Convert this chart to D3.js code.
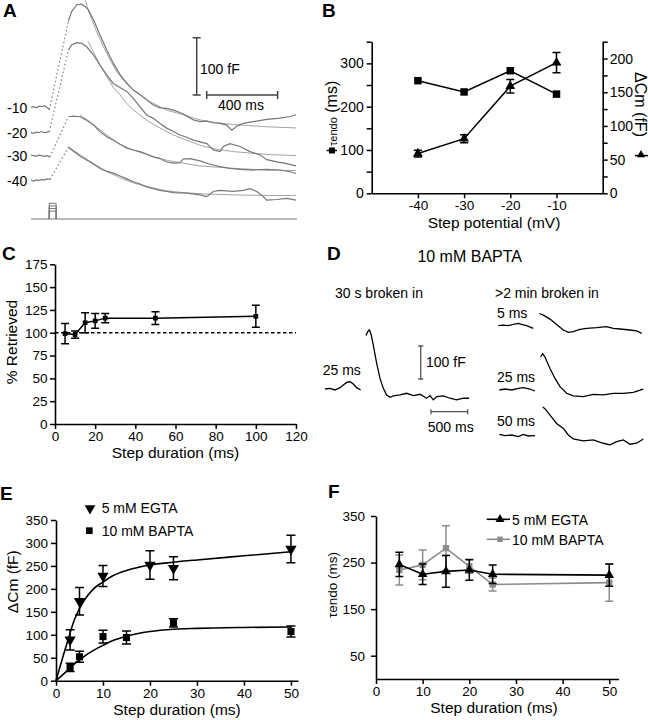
<!DOCTYPE html>
<html>
<head>
<meta charset="utf-8">
<script src="https://cdn.jsdelivr.net/npm/d3@7"></script>
<style>
  body { margin: 0; background: #fff; }
  svg { display: block; }
</style>
</head>
<body>
<div id="chart"></div>
<script>
const FONT = '"Liberation Sans", Arial, Helvetica, sans-serif';

// ---------- A: capacitance traces (ms, fF relative to each trace's baseline)
const aPotentials = ["-10", "-20", "-30", "-40"];
const aStepMv = [-10, -20, -30, -40];
const aPre = [
  [[0,0],[15,1],[30,-1],[45,2],[60,1],[75,3],[90,0],[103,-4]],
  [[0,0],[15,-1],[30,1],[45,0],[60,2],[75,0],[90,1],[103,2]],
  [[0,1],[15,0],[30,-1],[45,1],[60,0],[75,-1],[90,0],[107,-2]],
  [[0,0],[15,-2],[30,0],[45,-1],[60,1],[75,0],[90,2],[107,1]]
];
const aResp = [
  [[211,150],[229,167],[258,179],[286,180],[305,176],[323,170],[352,153],[389,126],[427,100],[464,77],[502,57],[540,42],[577,30],[615,22],[652,13],[690,4],[728,-1],[765,-2],[803,-5],[840,-9],[878,-15],[916,-22],[953,-25],[991,-24],[1028,-27],[1066,-28],[1104,-31],[1132,-40],[1160,-33],[1198,-28],[1254,-25],[1329,-21],[1404,-19],[1461,-16],[1495,-13]],
  [[211,144],[229,153],[258,157],[286,156],[314,150],[352,136],[389,118],[427,101],[464,86],[502,79],[540,72],[577,60],[615,45],[652,31],[690,25],[728,16],[765,8],[803,2],[840,-4],[878,-8],[916,-13],[953,-16],[991,-19],[1028,-30],[1066,-33],[1085,-24],[1122,-19],[1179,-24],[1235,-33],[1292,-39],[1329,-47],[1386,-51],[1442,-54],[1495,-58]],
  [[211,68],[239,69],[276,68],[314,62],[352,54],[389,42],[427,33],[464,27],[502,20],[540,13],[577,10],[615,7],[652,3],[690,-2],[728,-5],[765,-11],[803,-13],[840,-12],[859,-6],[897,-5],[953,-9],[1010,-15],[1066,-19],[1122,-22],[1179,-24],[1254,-25],[1329,-24],[1404,-25],[1461,-28],[1495,-31]],
  [[211,57],[239,50],[276,42],[314,35],[352,28],[389,20],[427,15],[464,12],[502,7],[540,2],[577,-3],[615,-7],[652,-12],[690,-15],[728,-18],[765,-20],[803,-22],[878,-23],[953,-26],[991,-29],[1028,-20],[1066,-18],[1141,-20],[1198,-18],[1235,-15],[1273,-20],[1310,-29],[1329,-35],[1386,-34],[1442,-32],[1495,-35]]
];
const aFit = [
  [[305,187],[333,161],[370,132],[408,106],[446,83],[483,62],[521,48],[577,30],[671,10],[765,-5],[859,-13],[953,-22],[1047,-27],[1141,-30],[1329,-34],[1495,-36]],
  [[323,159],[352,141],[389,118],[427,98],[464,79],[502,66],[540,51],[577,40],[652,22],[728,8],[803,-4],[878,-13],[953,-22],[1047,-29],[1141,-33],[1329,-38],[1495,-40]],
  [[276,71],[333,59],[389,45],[446,32],[502,20],[577,10],[671,0],[765,-8],[859,-13],[953,-18],[1141,-22],[1329,-25],[1495,-26]],
  [[211,58],[276,44],[352,29],[427,15],[502,4],[577,-5],[671,-13],[765,-19],[859,-22],[953,-24],[1141,-26],[1329,-27],[1495,-27]]
];

// ---------- B
const bPot = [-40, -30, -20, -10];
const bTau = [260, 234, 283, 229];
const bCm = [59, 81, 159, 194];
const bCmErr = [5, 6, 10, 15];
const bTicksX = [-40, -30, -20, -10];
const bTicksL = [0, 50, 100, 150, 200, 250, 300, 350];
const bTicksR = [0, 25, 50, 75, 100, 125, 150, 175, 200, 225];

// ---------- C
const cDur = [5, 10, 15, 20, 25, 50, 100];
const cRet = [99, 98, 111, 113, 116, 116, 118];
const cErr = [11, 4, 11, 8, 5, 7, 12];
const cTicksX = [0, 20, 40, 60, 80, 100, 120];
const cTicksY = [0, 25, 50, 75, 100, 125, 150, 175];

// ---------- D (ms, fF relative to baseline)
const dLeftPre = [[0,0],[68,2],[136,-3],[205,4],[250,12],[295,20],[341,22],[386,15],[432,4],[486,-3]];
const dLeftResp = [[559,162],[582,174],[605,179],[627,167],[659,132],[705,77],[750,32],[795,2],[841,-18],[886,-25],[932,-21],[1023,-18],[1114,-13],[1205,-20],[1295,-16],[1386,-28],[1432,-20],[1477,-33],[1523,-23],[1614,-21],[1705,-28],[1795,-33],[1886,-28],[1964,-28]];
const dRightLabels = ["5 ms", "25 ms", "50 ms"];
const dRightPre = [
  [[0,0],[68,2],[136,0],[205,4],[273,7],[318,4],[386,0],[477,-8]],
  [[14,0],[91,3],[182,0],[273,5],[341,7],[432,3],[500,-3]],
  [[14,2],[91,-2],[182,0],[273,-5],[341,2],[409,-3],[500,-2]]
];
const dRightResp = [
  [[559,37],[614,32],[705,20],[795,4],[886,-13],[955,-20],[1023,-18],[1114,-11],[1205,-8],[1341,-6],[1477,-3],[1568,-8],[1659,-10],[1795,-13],[1886,-16],[1955,-23]],
  [[577,100],[605,110],[636,100],[705,65],[773,35],[841,10],[932,-10],[1023,-18],[1159,-20],[1295,-13],[1432,-15],[1568,-10],[1705,-10],[1841,-7],[1977,3]],
  [[605,85],[636,80],[705,60],[795,35],[886,20],[955,0],[1023,-12],[1159,-18],[1295,-15],[1432,-25],[1523,-30],[1614,-20],[1705,-15],[1795,-28],[1886,-25],[1977,-12]]
];

// ---------- E
const eDurEgta = [3, 5, 10, 20, 25, 50];
const eEgta = [89, 173, 228, 252, 245, 287];
const eEgtaErr = [22, 30, 23, 31, 25, 30];
const eDurBapta = [3, 5, 10, 15, 25, 50];
const eBapta = [29, 52, 96, 94, 126, 107];
const eBaptaErr = [9, 12, 14, 14, 9, 12];
const eFitEgta = [[0,0],[2,70],[4,135],[6,175],[8,200],[10,215],[12,228],[15,240],[20,252],[25,258],[30,263],[40,272],[50,281]];
const eFitBapta = [[0,0],[2,18],[4,37],[6,53],[8,66],[10,77],[12,87],[15,97],[20,107],[25,112],[30,114],[40,116],[50,117]];
const eTicksX = [0, 10, 20, 30, 40, 50];
const eTicksY = [0, 50, 100, 150, 200, 250, 300, 350];

// ---------- F
const fDur = [5, 10, 15, 20, 25, 50];
const fEgta = [246, 225, 231, 234, 225, 223];
const fEgtaErr = [26, 22, 34, 22, 20, 24];
const fBapta = [234, 245, 281, 242, 203, 207];
const fBaptaErr = [32, 32, 48, 15, 14, 40];
const fTicksX = [0, 10, 20, 30, 40, 50];
const fTicksY = [50, 150, 250, 350];

const svg = d3.select("#chart").append("svg")
  .attr("width", 648).attr("height", 720)
  .attr("font-family", FONT);

svg.append("rect").attr("width", 648).attr("height", 720).attr("fill", "#fff");

function text(x, y, t, size, opts = {}) {
  const el = svg.append("text").attr("x", x).attr("y", y)
    .attr("font-size", size).attr("fill", opts.fill || "#000")
    .attr("text-anchor", opts.anchor || "start")
    .text(t);
  if (opts.bold) el.attr("font-weight", "bold");
  if (opts.rotate) el.attr("x", 0).attr("y", 0)
    .attr("transform", "translate(" + x + "," + y + ") rotate(" + opts.rotate + ")");
  return el;
}

function styleAxis(g, size) {
  g.attr("font-family", FONT).attr("font-size", size);
  g.select(".domain").attr("stroke-width", 1.6);
  g.selectAll(".tick line").attr("stroke-width", 1.5);
  g.selectAll(".tick text").attr("fill", "#000");
}

function errorBars(g, xs, ys, errs, x, y, cap, color) {
  xs.forEach((d, i) => {
    const cx = x(d), lo = y(ys[i] - errs[i]), hi = y(ys[i] + errs[i]);
    g.append("path")
      .attr("d", `M${cx},${lo}V${hi}M${cx - cap / 2},${lo}h${cap}M${cx - cap / 2},${hi}h${cap}`)
      .attr("stroke", color).attr("stroke-width", 1.5).attr("fill", "none");
  });
}

function markers(g, xs, ys, x, y, type, size, color, flip) {
  const sym = d3.symbol().type(type).size(size);
  xs.forEach((d, i) => {
    g.append("path").attr("d", sym())
      .attr("transform", `translate(${x(d)},${y(ys[i])})` + (flip ? " rotate(180)" : ""))
      .attr("fill", color);
  });
}

// ================= A =================
text(3, 17, "A", 19, { bold: true });
const ax = d3.scaleLinear().domain([0, 1500]).range([31, 297]);
const ay = d3.scaleLinear().domain([0, 100]).range([0, -57.3]);
const aBase = [107.3, 132.7, 155.7, 180];
const aLine = d3.line().x(d => ax(d[0])).y(d => ay(d[1]));

aPotentials.forEach((p, i) => {
  const g = svg.append("g").attr("transform", `translate(0,${aBase[i]})`);
  g.append("path").attr("d", aLine(aFit[i])).attr("fill", "none")
    .attr("stroke", "#9a9a9a").attr("stroke-width", 0.9);
  g.append("path").attr("d", aLine(aPre[i])).attr("fill", "none")
    .attr("stroke", "#777").attr("stroke-width", 1.2);
  g.append("path").attr("d", aLine([aPre[i][aPre[i].length - 1], aResp[i][0]]))
    .attr("fill", "none").attr("stroke", "#777").attr("stroke-width", 1.1)
    .attr("stroke-dasharray", "1.5,2.5");
  g.append("path").attr("d", aLine(aResp[i])).attr("fill", "none")
    .attr("stroke", "#777").attr("stroke-width", 1.2);
  text(7, aBase[i] + 5.5, p, 14);
});

// scale bars
{
  const x0 = 196.7, y0 = 95;
  svg.append("path")
    .attr("d", `M${x0},${y0}V${y0 + ay(100)}M${x0 - 4},${y0 + ay(100)}h8M${x0 - 4},${y0}h8`)
    .attr("stroke", "#444").attr("stroke-width", 1.5).attr("fill", "none");
  const hx = 206.7, hw = ax(400) - ax(0);
  svg.append("path")
    .attr("d", `M${hx},${y0}h${hw}M${hx},${y0 - 4}v8M${hx + hw},${y0 - 4}v8`)
    .attr("stroke", "#444").attr("stroke-width", 1.5).attr("fill", "none");
  text(200, 74, "100 fF", 14);
  text(218, 110, "400 ms", 14);
}

// stimulus
{
  const sy = d3.scaleLinear().domain([-70, -10]).range([219, 203.3]);
  svg.append("path").attr("d", `M${ax(0)},${sy(-70)}H${ax(1500)}`)
    .attr("stroke", "#777").attr("stroke-width", 1.2);
  aStepMv.forEach(v => {
    svg.append("path")
      .attr("d", `M${ax(103)},${sy(-70)}V${sy(v)}H${ax(142)}V${sy(-70)}`)
      .attr("stroke", "#777").attr("stroke-width", 1).attr("fill", "none");
  });
}

// ================= B =================
text(322, 17, "B", 19, { bold: true });
{
  const bx = d3.scaleLinear().domain([-50, 0]).range([371.7, 602.7]);
  const byL = d3.scaleLinear().domain([0, 350]).range([193.3, 41.7]);
  const byR = d3.scaleLinear().domain([0, 225]).range([193.3, 41.7]);
  const g = svg.append("g");

  styleAxis(g.append("g").attr("transform", "translate(371.7,0)")
    .call(d3.axisLeft(byL).tickValues(bTicksL).tickFormat(d => d % 100 === 0 ? d : "")
      .tickSize(5).tickPadding(3).tickSizeOuter(0)), 14);
  styleAxis(g.append("g").attr("transform", "translate(602.7,0)")
    .call(d3.axisRight(byR).tickValues(bTicksR).tickFormat(d => d % 50 === 0 ? d : "")
      .tickSize(5).tickPadding(2).tickSizeOuter(0)), 14);
  styleAxis(g.append("g").attr("transform", "translate(0,193.3)")
    .call(d3.axisBottom(bx).tickValues(bTicksX).tickFormat(d => String(d))
      .tickSize(5).tickPadding(2).tickSizeOuter(0)), 13.5);

  const lineL = d3.line().x((d, i) => bx(bPot[i])).y(d => byL(d));
  const lineR = d3.line().x((d, i) => bx(bPot[i])).y(d => byR(d));
  g.append("path").attr("d", lineR(bCm)).attr("fill", "none").attr("stroke", "#000").attr("stroke-width", 1.5);
  errorBars(g, bPot, bCm, bCmErr, bx, byR, 8, "#000");
  markers(g, bPot, bCm, bx, byR, d3.symbolTriangle, 42, "#000");
  g.append("path").attr("d", lineL(bTau)).attr("fill", "none").attr("stroke", "#000").attr("stroke-width", 1.5);
  markers(g, bPot, bTau, bx, byL, d3.symbolSquare, 56, "#000");

  // left title: small "τendo", larger "(ms)", read bottom-to-top
  const lt = svg.append("text").attr("transform", "translate(337,146) rotate(-90)")
    .attr("fill", "#000");
  lt.append("tspan").attr("font-size", 11).text("τendo");
  lt.append("tspan").attr("font-size", 16).text(" (ms)");
  text(635, 104.5, "ΔCm (fF)", 16, { anchor: "middle", rotate: 90 });

  // series keys on the axis titles
  g.append("path").attr("d", "M326.7,150.5H337").attr("stroke", "#000").attr("stroke-width", 1.5);
  g.append("rect").attr("x", 329).attr("y", 147.5).attr("width", 6).attr("height", 6).attr("fill", "#000");
  g.append("path").attr("d", "M635,155.6H648").attr("stroke", "#000").attr("stroke-width", 1.5);
  g.append("path").attr("d", d3.symbol().type(d3.symbolTriangle).size(30)())
    .attr("transform", "translate(641,154.8)").attr("fill", "#000");

  text(494, 227.5, "Step potential (mV)", 15.5, { anchor: "middle" });
}

// ================= C =================
text(2, 260, "C", 19, { bold: true });
{
  const cx = d3.scaleLinear().domain([0, 120]).range([55, 296]);
  const cy = d3.scaleLinear().domain([0, 175]).range([424, 264.3]);
  const g = svg.append("g");
  styleAxis(g.append("g").attr("transform", "translate(55,0)")
    .call(d3.axisLeft(cy).tickValues(cTicksY).tickSize(5).tickPadding(2.5).tickSizeOuter(0)), 13.5);
  styleAxis(g.append("g").attr("transform", "translate(0,424)")
    .call(d3.axisBottom(cx).tickValues(cTicksX).tickSize(5).tickPadding(2).tickSizeOuter(0)), 13.5);

  g.append("path").attr("d", `M${cx(0)},${cy(100)}H${cx(120)}`)
    .attr("stroke", "#000").attr("stroke-width", 1.3).attr("stroke-dasharray", "3.5,2.5");
  const line = d3.line().x((d, i) => cx(cDur[i])).y(d => cy(d));
  g.append("path").attr("d", line(cRet)).attr("fill", "none").attr("stroke", "#000").attr("stroke-width", 1.5);
  errorBars(g, cDur, cRet, cErr, cx, cy, 8, "#000");
  markers(g, cDur, cRet, cx, cy, d3.symbolSquare, 22, "#000");

  text(17, 342, "% Retrieved", 15.5, { anchor: "middle", rotate: -90 });
  text(175.5, 458, "Step duration (ms)", 15.5, { anchor: "middle" });
}

// ================= D =================
text(327, 260, "D", 19, { bold: true });
{
  const dx = d3.scaleLinear().domain([0, 2000]).range([0, 146.7]);
  const dy = d3.scaleLinear().domain([0, 100]).range([0, -33]);
  const line = d3.line().x(d => dx(d[0])).y(d => dy(d[1]));
  const drawTrace = (x0, y0, pre, resp) => {
    const g = svg.append("g").attr("transform", `translate(${x0},${y0})`);
    [pre, resp].forEach(s => g.append("path").attr("d", line(s)).attr("fill", "none")
      .attr("stroke", "#000").attr("stroke-width", 1.3));
  };
  drawTrace(325, 389, dLeftPre, dLeftResp);
  const rightBase = [325.7, 390, 435];
  dRightPre.forEach((p, i) => drawTrace(498.3, rightBase[i], p, dRightResp[i]));

  text(469.7, 262.3, "10 mM BAPTA", 16, { anchor: "middle" });
  text(335, 298.3, "30 s broken in", 14);
  text(495, 298.3, ">2 min broken in", 14);
  text(322.7, 375, "25 ms", 14);
  const rightLabelY = [318.3, 382.3, 425.7];
  dRightLabels.forEach((l, i) => text(497, rightLabelY[i], l, 14));

  // scale bars
  const vx = 420.7, vy = 379;
  svg.append("path")
    .attr("d", `M${vx},${vy}V${vy + dy(100)}M${vx - 2.5},${vy}h5M${vx - 2.5},${vy + dy(100)}h5`)
    .attr("stroke", "#555").attr("stroke-width", 1.3).attr("fill", "none");
  const hx = 431, hy = 411.7;
  svg.append("path")
    .attr("d", `M${hx},${hy}h${dx(500)}M${hx},${hy - 2.5}v5M${hx + dx(500)},${hy - 2.5}v5`)
    .attr("stroke", "#555").attr("stroke-width", 1.3).attr("fill", "none");
  text(426, 366.7, "100 fF", 14);
  text(450.7, 431.7, "500 ms", 14, { anchor: "middle" });
}

// ================= E =================
text(0, 500, "E", 19, { bold: true });
{
  const ex = d3.scaleLinear().domain([0, 51.5]).range([56, 298]);
  const ey = d3.scaleLinear().domain([0, 350]).range([680.7, 520]);
  const g = svg.append("g");
  styleAxis(g.append("g").attr("transform", "translate(56,0)")
    .call(d3.axisLeft(ey).tickValues(eTicksY).tickSize(5).tickPadding(3).tickSizeOuter(0)), 13.5);
  styleAxis(g.append("g").attr("transform", "translate(0,680.7)")
    .call(d3.axisBottom(ex).tickValues(eTicksX).tickSize(5).tickPadding(3).tickSizeOuter(0)), 13.5);

  const fit = d3.line().x(d => ex(d[0])).y(d => ey(d[1])).curve(d3.curveMonotoneX);
  g.append("path").attr("d", fit(eFitEgta)).attr("fill", "none").attr("stroke", "#000").attr("stroke-width", 1.6);
  g.append("path").attr("d", fit(eFitBapta)).attr("fill", "none").attr("stroke", "#000").attr("stroke-width", 1.6);

  errorBars(g, eDurEgta, eEgta, eEgtaErr, ex, ey, 9, "#000");
  errorBars(g, eDurBapta, eBapta, eBaptaErr, ex, ey, 9, "#000");
  markers(g, eDurEgta, eEgta, ex, ey, d3.symbolTriangle, 55, "#000", true);
  markers(g, eDurBapta, eBapta, ex, ey, d3.symbolSquare, 50, "#000");

  // legend
  g.append("path").attr("d", d3.symbol().type(d3.symbolTriangle).size(50)())
    .attr("transform", "translate(90,508.3) rotate(180)").attr("fill", "#000");
  g.append("path").attr("d", d3.symbol().type(d3.symbolSquare).size(45)())
    .attr("transform", "translate(89.3,530.7)").attr("fill", "#000");
  text(101.7, 513, "5 mM EGTA", 14);
  text(101.7, 536, "10 mM BAPTA", 14);

  text(18, 581.7, "ΔCm (fF)", 15.5, { anchor: "middle", rotate: -90 });
  text(177, 715, "Step duration (ms)", 15.5, { anchor: "middle" });
}

// ================= F =================
text(328, 498.3, "F", 19, { bold: true });
{
  const fx = d3.scaleLinear().domain([0, 52]).range([376, 618.6]);
  const fy = d3.scaleLinear().domain([0, 350]).range([679, 516]);
  const g = svg.append("g");
  styleAxis(g.append("g").attr("transform", "translate(376,0)")
    .call(d3.axisLeft(fy).tickValues(fTicksY).tickSize(5).tickPadding(6).tickSizeOuter(0)), 13.5);
  styleAxis(g.append("g").attr("transform", "translate(0,679)")
    .call(d3.axisBottom(fx).tickValues(fTicksX).tickSize(5).tickPadding(2).tickSizeOuter(0)), 13.5);

  const gray = "#8c8c8c";
  const line = d3.line().x((d, i) => fx(fDur[i])).y(d => fy(d));
  g.append("path").attr("d", line(fBapta)).attr("fill", "none").attr("stroke", gray).attr("stroke-width", 1.6);
  errorBars(g, fDur, fBapta, fBaptaErr, fx, fy, 8, gray);
  markers(g, fDur, fBapta, fx, fy, d3.symbolSquare, 40, gray);
  g.append("path").attr("d", line(fEgta)).attr("fill", "none").attr("stroke", "#000").attr("stroke-width", 1.6);
  errorBars(g, fDur, fEgta, fEgtaErr, fx, fy, 8, "#000");
  markers(g, fDur, fEgta, fx, fy, d3.symbolTriangle, 40, "#000");

  // legend
  g.append("path").attr("d", "M486.7,519.3H510").attr("stroke", "#000").attr("stroke-width", 1.6);
  g.append("path").attr("d", d3.symbol().type(d3.symbolTriangle).size(35)())
    .attr("transform", "translate(500,519.3)").attr("fill", "#000");
  g.append("path").attr("d", "M486.7,539.3H510").attr("stroke", gray).attr("stroke-width", 1.6);
  g.append("path").attr("d", d3.symbol().type(d3.symbolSquare).size(30)())
    .attr("transform", "translate(500,539.3)").attr("fill", gray);
  text(512, 524.5, "5 mM EGTA", 14);
  text(512, 544.5, "10 mM BAPTA", 14);

  text(337, 585, "τendo (ms)", 13.5, { anchor: "middle", rotate: -90 });
  text(494, 713, "Step duration (ms)", 15.5, { anchor: "middle" });
}
</script>
</body>
</html>
